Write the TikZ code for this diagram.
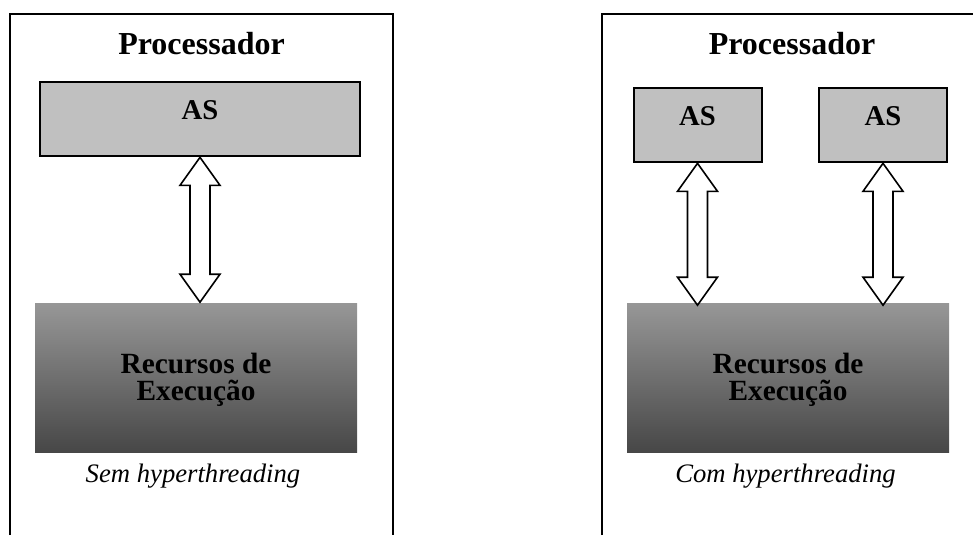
\documentclass[tikz,border=0pt]{standalone}
\usepackage{fontspec}
\setmainfont{Liberation Serif}
\usetikzlibrary{calc}
\definecolor{asgrey}{HTML}{C0C0C0}
\definecolor{restop}{HTML}{979797}
\definecolor{resbot}{HTML}{474747}
\tikzset{
  every picture/.style={line width=1.2pt},
  frame/.style={draw=black, line width=1.5pt},
  title/.style={font=\fontsize{24}{28}\selectfont\bfseries, anchor=base},
  asbox/.style={draw=black, fill=asgrey, line width=1.5pt, inner sep=0pt,
    font=\fontsize{21.5}{24}\selectfont\bfseries, text height=28pt, text depth=28pt, minimum width=#1},
  res/.style={top color=restop, bottom color=resbot, align=center, inner sep=0pt,
    font=\fontsize{22}{20.5}\selectfont\bfseries, minimum width=241.5pt, minimum height=111.75pt},
  caption/.style={font=\fontsize{20}{24}\selectfont\itshape, anchor=base},
  bigarrow/.style={draw=black, fill=white, line width=1.2pt, line join=miter},
}
% block arrow with two heads, from a top tip to a bottom tip
\newcommand{\dblarrow}[2]{%
  \draw[bigarrow] (#1) -- ++(20,28) -- ++(-10,0) -- ($(#2)+(10,-28)$) -- ++(10,0)
    -- (#2) -- ++(-20,-28) -- ++(10,0) -- ($(#1)+(-10,28)$) -- ++(-10,0) -- cycle;}
\begin{document}
\begin{tikzpicture}[x=0.75pt, y=-0.75pt]
  \useasboundingbox (0,0) rectangle (973,535);

  % ---- frames, open at the bottom
  \draw[frame] (10,535) |- (393,14) -- (393,535);
  \draw[frame] (602,535) |- (973,14);

  % ---- without hyperthreading
  \node[title] (procL) at (201.5,55) {Processador};
  \node[asbox=240pt] (asL) at (200,119) {AS};
  \node[res] (resL) at (196,377.5) {\rule{0pt}{19pt}Recursos de\\Execução};
  \node[caption] (capL) at (193,482) {Sem hyperthreading};

  % ---- with hyperthreading
  \node[title] (procR) at (792,55) {Processador};
  \node[asbox=96pt] (asR1) at (697.5,125) {AS};
  \node[asbox=96pt] (asR2) at (883,125) {AS};
  \node[res] (resR) at (788,377.5) {\rule{0pt}{19pt}Recursos de\\Execução};
  \node[caption] (capR) at (785.5,482) {Com hyperthreading};

  % arrows
  \coordinate (bL) at (asL.south |- resL.north);
  \coordinate (bR1) at ($(asR1.south |- resR.north)+(0,3)$);
  \coordinate (bR2) at ($(asR2.south |- resR.north)+(0,3)$);
  \dblarrow{asL.south}{bL}
  \dblarrow{asR1.south}{bR1}
  \dblarrow{asR2.south}{bR2}
\end{tikzpicture}
\end{document}
